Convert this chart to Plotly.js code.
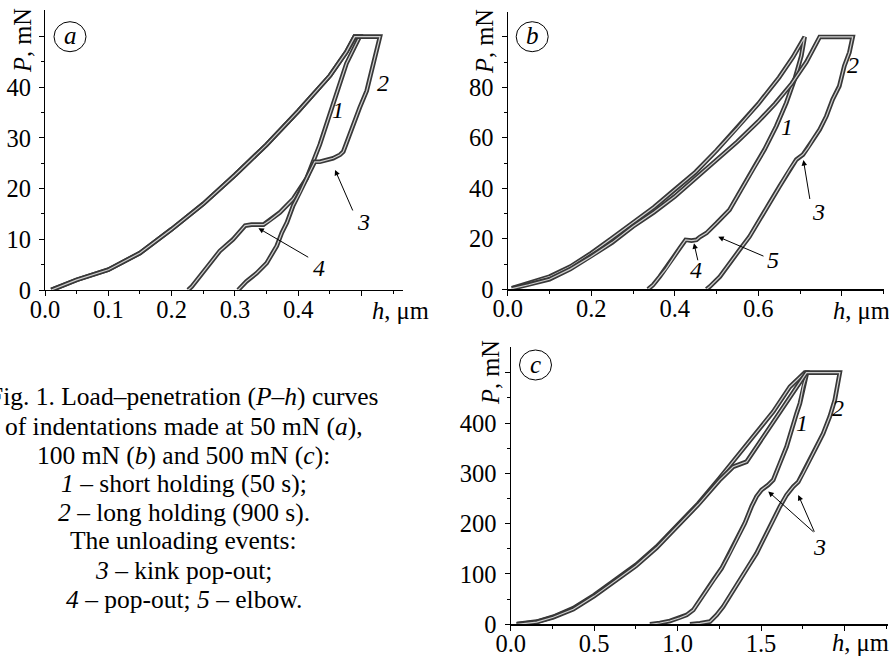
<!DOCTYPE html>
<html>
<head>
<meta charset="utf-8">
<script src="https://cdn.plot.ly/plotly-3.0.1.min.js"></script>
<style>html,body{margin:0;padding:0;background:#fff}#chart{width:889px;height:657px}</style>
</head>
<body>
<div id="chart"></div>
<script>
// ---------- data ----------
// panel (a) 50 mN
const aLoadH = [0.01,0.05,0.1,0.15,0.2,0.25,0.3,0.35,0.4,0.45,0.476,0.489];
const aLoadP = [0,2.0,4.0,7.3,12.0,17.0,22.7,28.7,35.3,42.3,47,50];
const a1UnloadH = [0.497,0.476,0.455,0.434,0.413,0.392,0.371,0.355,0.345,0.326,0.316,0.297,0.276,0.261,0.245,0.232,0.226];
const a1UnloadP = [50,44.7,36.7,28.7,22,18,15.3,13.7,12.9,12.9,12.7,10,7.7,5.3,2.7,0.7,0];
const a2UnloadH = [0.529,0.518,0.508,0.497,0.487,0.479,0.471,0.466,0.455,0.434,0.426,0.413,0.403,0.392,0.382,0.374,0.366,0.35,0.334,0.318,0.305];
const a2UnloadP = [50,44.7,39.3,36,32.7,30,27.3,26.7,26,25.3,25.3,22,19.3,16.7,13.3,11.3,8.7,5.3,3.3,1.7,0];
// panel (b) 100 mN
const b1LoadH = [0.01,0.05,0.1,0.15,0.2,0.25,0.3,0.35,0.4,0.45,0.5,0.55,0.6,0.65,0.683,0.711];
const b1LoadP = [0.4,2.4,5,9,14.3,20.3,26.5,32.5,39.5,46.5,55,64,73.5,84,92,100];
const b1UnloadH = [0.711,0.703,0.687,0.667,0.643,0.615,0.591,0.563,0.531,0.5,0.476,0.46,0.452,0.44,0.426,0.412,0.396,0.38,0.364,0.348,0.336];
const b1UnloadP = [100,92.5,83.2,73.9,64.6,55.4,48.7,40.8,31.5,26.2,22.3,20.7,19.6,19.3,19.6,16.3,12.3,8.3,5,1.7,0];
const b2LoadH = [0.01,0.05,0.1,0.15,0.2,0.25,0.3,0.35,0.4,0.45,0.5,0.55,0.6,0.64,0.68,0.715,0.747];
const b2LoadP = [0.3,1.8,4,8,13,18.5,24.9,30.5,36.8,44,51.4,58.5,66.5,73.5,81.5,90,100];
const b2UnloadH = [0.826,0.818,0.806,0.794,0.778,0.763,0.747,0.731,0.719,0.707,0.691,0.675,0.651,0.627,0.603,0.579,0.555,0.531,0.508,0.484,0.476];
const b2UnloadP = [100,93.8,88.5,80.5,75.2,68.6,63.3,59.3,56,53.4,51.4,47.4,40.8,34.2,27.5,20.9,15.6,10.3,5,1.1,0];
// panel (c) 500 mN
const c1LoadH = [0.036,0.156,0.255,0.375,0.5,0.625,0.75,0.874,1.0,1.124,1.25,1.373,1.473,1.573,1.673,1.762];
const c1LoadP = [0.7,5.3,15,32,58,88,118,154,197,240,290,340,383,422.5,472,500];
const c1UnloadH = [1.775,1.772,1.752,1.733,1.713,1.683,1.653,1.613,1.573,1.543,1.503,1.473,1.443,1.403,1.363,1.313,1.263,1.214,1.174,1.134,1.094,1.054,1.014,0.954,0.894,0.834];
const c1UnloadP = [500,495,472,439,419,386,353,320,287,277,267,254,234,201,174,141,111,88,68,48,28.5,18.5,13,6.6,2.6,0];
const c2LoadH = [0.036,0.156,0.255,0.375,0.5,0.625,0.75,0.874,1.0,1.124,1.25,1.333,1.413,1.5,1.6,1.7,1.772];
const c2LoadP = [0,4.5,14,30,56,86,116,152,195,238,286,313,323,366,415,465,500];
const c2UnloadH = [1.972,1.962,1.942,1.912,1.872,1.832,1.792,1.752,1.723,1.693,1.653,1.613,1.573,1.523,1.473,1.423,1.373,1.323,1.273,1.234,1.194,1.134,1.074];
const c2UnloadP = [500,479,446,413,379,353,326,300,283,273.5,257,234,207,174,141,114.6,88,61.6,35,18.5,5.3,2,0];

// tick labels
const aXTicks = [0,0.1,0.2,0.3,0.4,0.5], aXText = ['0.0','0.1','0.2','0.3','0.4',''];
const aYTicks = [0,10,20,30,40,50], aYText = ['0','10','20','30','40',''];
const bXTicks = [0,0.2,0.4,0.6,0.8], bXText = ['0.0','0.2','0.4','0.6',''];
const bYTicks = [0,20,40,60,80,100], bYText = ['0','20','40','60','80',''];
const cXTicks = [0,0.5,1.0,1.5,2.0], cXText = ['0.0','0.5','1.0','1.5',''];
const cYTicks = [0,100,200,300,400,500], cYText = ['0','100','200','300','400',''];
const aXMinor = [0.05,0.15,0.25,0.35,0.45,0.55], aYMinor = [5,15,25,35,45];
const bXMinor = [0.1,0.3,0.5,0.7,0.9], bYMinor = [10,30,50,70,90];
const cXMinor = [0.25,0.75,1.25,1.75,2.25], cYMinor = [50,150,250,350,450];

const captionLines = [
  'Fig. 1. Load–penetration (<i>P</i>–<i>h</i>) curves',
  'of indentations made at 50 mN (<i>a</i>),',
  '100 mN (<i>b</i>) and 500 mN (<i>c</i>):',
  '<i>1</i> – short holding (50 s);',
  '<i>2</i> – long holding (900 s).',
  'The unloading events:',
  '<i>3</i> – kink pop-out;',
  '<i>4</i> – pop-out; <i>5</i> – elbow.'
];

// ---------- build ----------
const W = 889, H = 657;
const FONT = 'Liberation Serif';
const px = v => v / W, py = v => (H - v) / H;

function curve(h, p, xa, ya) {
  return [
    {x: h, y: p, xaxis: xa, yaxis: ya, mode: 'lines', type: 'scatter', hoverinfo: 'skip',
     line: {color: '#383838', width: 4.6}, cliponaxis: false},
    {x: h, y: p, xaxis: xa, yaxis: ya, mode: 'lines', type: 'scatter', hoverinfo: 'skip',
     line: {color: '#cfcfcf', width: 1.2}, cliponaxis: false}
  ];
}
const traces = [].concat(
  curve(aLoadH.concat(a1UnloadH), aLoadP.concat(a1UnloadP), 'x', 'y'),
  curve(aLoadH.concat(a2UnloadH), aLoadP.concat(a2UnloadP), 'x', 'y'),
  curve(b1LoadH.concat(b1UnloadH), b1LoadP.concat(b1UnloadP), 'x2', 'y2'),
  curve(b2LoadH.concat(b2UnloadH), b2LoadP.concat(b2UnloadP), 'x2', 'y2'),
  curve(c1LoadH.concat(c1UnloadH), c1LoadP.concat(c1UnloadP), 'x3', 'y3'),
  curve(c2LoadH.concat(c2UnloadH), c2LoadP.concat(c2UnloadP), 'x3', 'y3')
);

function axis(domain, range, tv, tt, minorVals, anchor, standoff) {
  return {
    domain: domain, range: range, anchor: anchor,
    tickmode: 'array', tickvals: tv, ticktext: tt,
    ticks: 'outside', ticklen: 5, tickwidth: 1, tickcolor: '#000',
    ticklabelstandoff: standoff,
    minor: {tickmode: 'array', tickvals: minorVals, ticks: 'outside', ticklen: 3, tickwidth: 1, tickcolor: '#000', showgrid: false},
    showline: true, linecolor: '#000', linewidth: 1.2,
    showgrid: false, zeroline: false, mirror: false,
    tickfont: {family: FONT, size: 24.5, color: '#000'}
  };
}

const layout = {
  width: W, height: H, margin: {l: 0, r: 0, t: 0, b: 0},
  paper_bgcolor: '#fff', plot_bgcolor: 'rgba(0,0,0,0)', showlegend: false,
  font: {family: FONT, color: '#000'},
  xaxis:  axis([px(45), px(402.8)], [0, 0.565], aXTicks, aXText, aXMinor, 'y', -8),
  yaxis:  axis([py(290), py(10.3)], [0, 55.2], aYTicks, aYText, aYMinor, 'x', 3),
  xaxis2: axis([px(507.7), px(883.6)], [0, 0.9], bXTicks, bXText, bXMinor, 'y2', -8),
  yaxis2: axis([py(289.3), py(11.7)], [0, 110], bYTicks, bYText, bYMinor, 'x2', 3),
  xaxis3: axis([px(510.7), px(887.9)], [0, 2.26], cXTicks, cXText, cXMinor, 'y3', -8),
  yaxis3: axis([py(624.3), py(346.5)], [0, 552], cYTicks, cYText, cYMinor, 'x3', 3),
  shapes: [],
  annotations: []
};

// panel letters in circles
[[70, 36.7, 'a'], [532.2, 36.7, 'b'], [535.5, 365, 'c']].forEach(([cx, cy, t]) => {
  layout.shapes.push({type: 'circle', xref: 'paper', yref: 'paper',
    x0: px(cx - 16), x1: px(cx + 16), y0: py(cy + 15), y1: py(cy - 15),
    line: {color: '#000', width: 1}});
  layout.annotations.push({xref: 'paper', yref: 'paper', x: px(cx), y: py(cy - 1),
    text: '<i>' + t + '</i>', showarrow: false, font: {family: FONT, size: 25, color: '#000'},
    xanchor: 'center', yanchor: 'middle'});
});

// axis titles
[[22, 41], [484, 42], [490, 373]].forEach(([x, y]) => {
  layout.annotations.push({xref: 'paper', yref: 'paper', x: px(x), y: py(y), textangle: -90,
    text: '<i>P</i>, mN', showarrow: false, font: {family: FONT, size: 24.5, color: '#000'},
    xanchor: 'center', yanchor: 'middle'});
});
[[370, 310], [831, 310], [830, 642]].forEach(([x, y]) => {
  layout.annotations.push({xref: 'paper', yref: 'paper', x: px(x), y: py(y),
    text: '<i>h</i>, μm', showarrow: false, font: {family: FONT, size: 24.5, color: '#000'},
    xanchor: 'left', yanchor: 'middle'});
});

// curve numbers
const numFont = {family: FONT, size: 24, color: '#000'};
function num(xr, yr, x, y, t) {
  layout.annotations.push({xref: xr, yref: yr, x: x, y: y, text: '<i>' + t + '</i>',
    showarrow: false, font: numFont, xanchor: 'center', yanchor: 'middle'});
}
function arrow(xr, yr, x, y, ax, ay) {
  layout.annotations.push({xref: xr, yref: yr, axref: xr, ayref: yr, x: x, y: y, ax: ax, ay: ay,
    text: '', showarrow: true, arrowhead: 2, arrowsize: 1.1, arrowwidth: 1, arrowcolor: '#000', standoff: 0, startstandoff: 0});
}
num('x', 'y', 0.463, 35.5, '1'); num('x', 'y', 0.534, 40.8, '2');
num('x', 'y', 0.503, 13.5, '3'); arrow('x', 'y', 0.458, 23.7, 0.487, 15.4);
num('x', 'y', 0.432, 4.3, '4');  arrow('x', 'y', 0.337, 12.2, 0.418, 6.3);

num('x2', 'y2', 0.668, 64.4, '1'); num('x2', 'y2', 0.827, 88.8, '2');
num('x2', 'y2', 0.744, 30.7, '3'); arrow('x2', 'y2', 0.708, 51.2, 0.724, 35.2);
num('x2', 'y2', 0.452, 7.6, '4');  arrow('x2', 'y2', 0.446, 18.2, 0.456, 10.9);
num('x2', 'y2', 0.636, 11.6, '5'); arrow('x2', 'y2', 0.504, 20.8, 0.616, 12.9);

num('x3', 'y3', 1.744, 400, '1'); num('x3', 'y3', 1.963, 430, '2');
num('x3', 'y3', 1.853, 154, '3');
arrow('x3', 'y3', 1.543, 264, 1.823, 181);
arrow('x3', 'y3', 1.723, 257, 1.823, 181);

// caption
const capY = [396.7, 426, 455, 483.3, 512.3, 540.7, 570, 599.3];
captionLines.forEach((t, i) => {
  layout.annotations.push({xref: 'paper', yref: 'paper', x: px(183.5), y: py(capY[i]),
    text: t, showarrow: false, font: {family: FONT, size: 25.5, color: '#000'},
    xanchor: 'center', yanchor: 'middle'});
});

Plotly.newPlot('chart', traces, layout, {staticPlot: true, displayModeBar: false});
</script>
</body>
</html>
